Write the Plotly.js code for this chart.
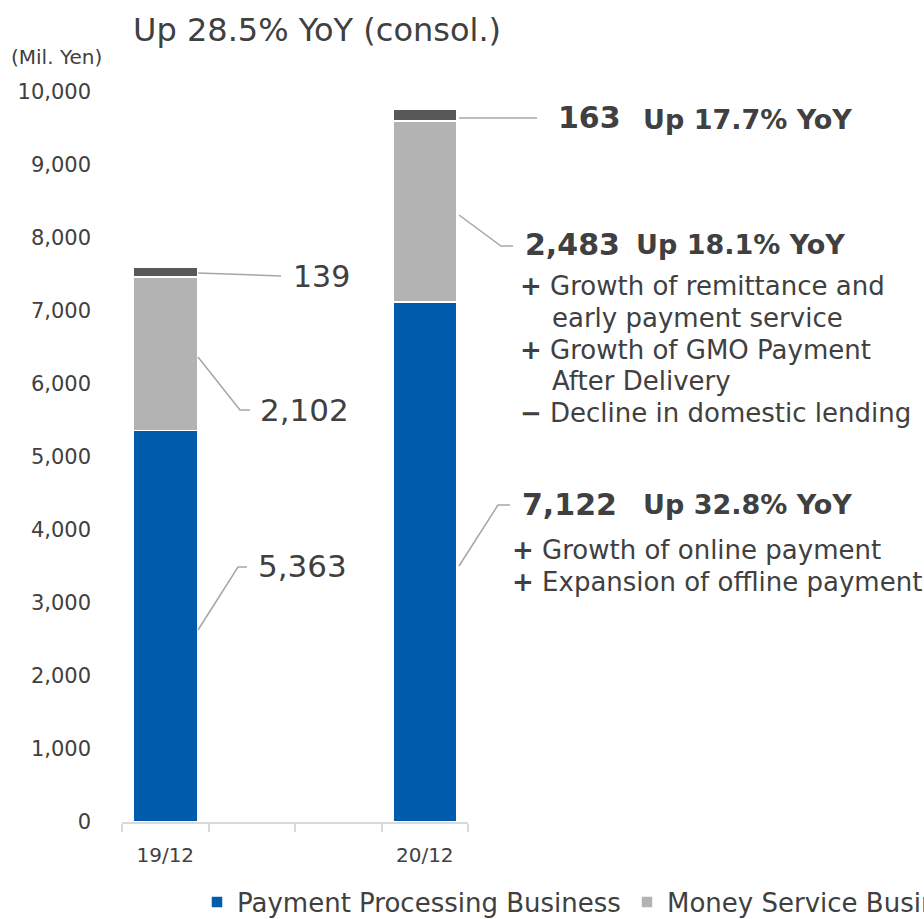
<!DOCTYPE html>
<html>
<head>
<meta charset="utf-8">
<script src="https://cdn.plot.ly/plotly-3.0.1.min.js"></script>
<style>html,body{margin:0;padding:0;background:#fff;}</style>
</head>
<body>
<div id="chart" style="width:924px;height:919px;"></div>
<script>
// Data
const categories = ["19/12", " ", "  ", "20/12"];
const paymentProcessing = [5363, null, null, 7122];
const moneyService = [2102, null, null, 2483];
const others = [139, null, null, 163];
const seriesNames = ["Payment Processing Business", "Money Service Business", "Others"];
const yTickVals = [0, 1000, 2000, 3000, 4000, 5000, 6000, 7000, 8000, 9000, 10000];

const W = 924, H = 919;
const L = 122, R = 468, T = 92, B = 822;
const px = x => (x - L) / (R - L);
const py = y => (B - y) / (B - T);

const txt = '#404040';
const font = 'DejaVu Sans, Verdana, sans-serif';

const barCommon = {type: 'bar', x: categories, width: 0.74, hoverinfo: 'skip'};
const data = [
  Object.assign({}, barCommon, {name: seriesNames[0], y: paymentProcessing, legend: 'legend',
    marker: {color: '#005BAC', line: {color: '#ffffff', width: 1.5}}}),
  Object.assign({}, barCommon, {name: seriesNames[1], y: moneyService, legend: 'legend2',
    marker: {color: '#B3B3B3', line: {color: '#ffffff', width: 1.5}}}),
  Object.assign({}, barCommon, {name: seriesNames[2], y: others, showlegend: false,
    marker: {color: '#595757', line: {color: '#ffffff', width: 1.5}}})
];

function ann(text, x, y, size, bold, extra) {
  return Object.assign({
    text: bold ? '<b>' + text + '</b>' : text,
    xref: 'paper', yref: 'paper', x: px(x), y: py(y),
    xanchor: 'left', yanchor: 'middle', showarrow: false,
    font: {family: font, size: size, color: txt}
  }, extra || {});
}

const annotations = [
  ann('Up 28.5% YoY (consol.)', 131, 30, 32, false),
  ann('(Mil. Yen)', 9, 57, 20, false),
  ann('139', 291, 276, 30, false),
  ann('2,102', 258, 410, 31, false),
  ann('5,363', 256, 566, 31, false),
  ann('163', 556, 118, 30, true),
  ann('Up 17.7% YoY', 641, 120, 27, true),
  ann('2,483', 523, 245, 30, true),
  ann('Up 18.1% YoY', 634, 245, 27, true),
  ann('<b>+</b> Growth of remittance and', 518, 286, 26, false),
  ann('early payment service', 550, 318, 26, false),
  ann('<b>+</b> Growth of GMO Payment', 518, 350, 26, false),
  ann('After Delivery', 550, 381, 26, false),
  ann('<b>−</b> Decline in domestic lending', 518, 413, 26, false),
  ann('7,122', 520, 504, 30, true),
  ann('Up 32.8% YoY', 641, 504, 27, true),
  ann('<b>+</b> Growth of online payment', 510, 550, 26, false),
  ann('<b>+</b> Expansion of offline payment', 510, 582, 26, false)
];

function poly(points) {
  let d = '';
  points.forEach((p, i) => {
    d += (i === 0 ? 'M' : 'L') + px(p[0]) + ',' + py(p[1]) + ' ';
  });
  return {type: 'path', xref: 'paper', yref: 'paper', path: d.trim(),
    line: {color: '#A6A6A6', width: 1.5}};
}

const shapes = [
  poly([[198, 273], [281, 276]]),
  poly([[198, 357], [240, 410], [250, 410]]),
  poly([[198, 630], [238, 567], [247, 567]]),
  poly([[459, 118], [537, 118]]),
  poly([[459, 215], [501, 246], [513, 246]]),
  poly([[459, 566], [498, 505], [510, 505]])
];

const legendFont = {family: font, size: 26, color: txt};
const layout = {
  width: W, height: H,
  margin: {l: L, r: W - R, t: T, b: H - B, pad: 0, autoexpand: false},
  paper_bgcolor: '#ffffff', plot_bgcolor: '#ffffff',
  barmode: 'stack', bargap: 0.26,
  showlegend: true,
  legend: {orientation: 'h', x: px(197), xanchor: 'left', y: py(902), yanchor: 'middle',
    font: legendFont, itemclick: false, itemdoubleclick: false, bgcolor: 'rgba(0,0,0,0)'},
  legend2: {orientation: 'h', x: px(627), xanchor: 'left', y: py(902), yanchor: 'middle',
    font: legendFont, itemclick: false, itemdoubleclick: false, bgcolor: 'rgba(0,0,0,0)'},
  font: {family: font, color: txt},
  xaxis: {type: 'category', categoryorder: 'array', categoryarray: categories,
    range: [-0.5, 3.5], showgrid: false, zeroline: false,
    showline: true, linecolor: '#D9D9D9', linewidth: 2,
    ticks: 'outside', tickson: 'boundaries', ticklen: 8, tickcolor: '#D9D9D9', tickwidth: 2,
    ticklabelstandoff: 14,
    tickfont: {family: font, size: 20, color: txt}, fixedrange: true},
  yaxis: {range: [0, 10000], tickvals: yTickVals, tickformat: ',d',
    showgrid: false, zeroline: false, showline: false, ticks: '',
    ticklabelstandoff: 30,
    tickfont: {family: font, size: 21, color: txt}, fixedrange: true},
  annotations: annotations,
  shapes: shapes
};

Plotly.newPlot('chart', data, layout, {displayModeBar: false, staticPlot: true});
</script>
</body>
</html>
